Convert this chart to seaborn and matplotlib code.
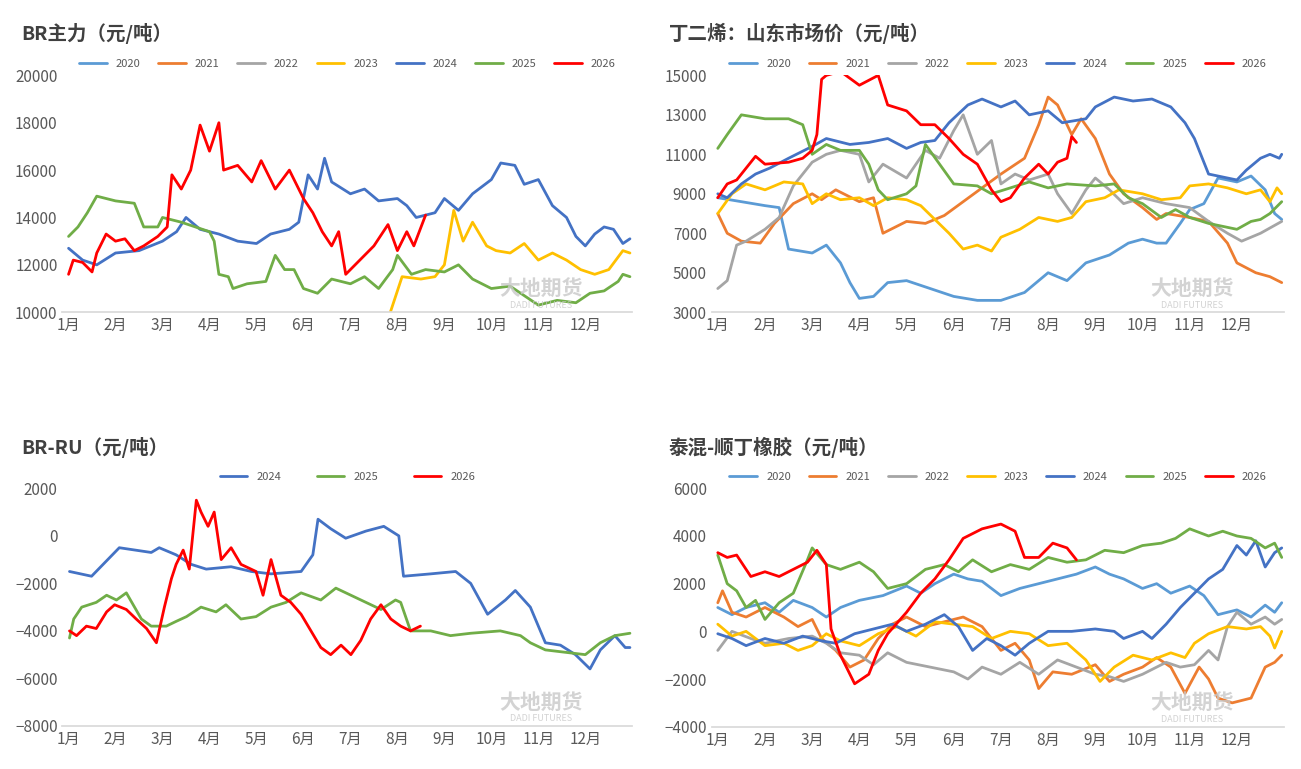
import pandas as pd
import matplotlib.pyplot as plt
import seaborn as sns
import numpy as np

sns.set_theme(style='white')
plt.rcParams['font.family'] = ['Noto Sans CJK SC', 'DejaVu Sans']

colors = {'2020': '#5B9BD5', '2021': '#ED7D31', '2022': '#A5A5A5', '2023': '#FFC000',
          '2024': '#4472C4', '2025': '#70AD47', '2026': '#FF0000'}

# x = month position (1.0 = Jan 1), y = value
br_main = {
    '2020': [], '2021': [], '2022': [],
    '2023': [(7.85, 10000), (8.1, 11500), (8.5, 11400), (8.8, 11500), (9.0, 12000), (9.2, 14300), (9.4, 13000),
             (9.6, 13800), (9.9, 12800), (10.1, 12600), (10.4, 12500), (10.7, 12900), (11.0, 12200), (11.3, 12500),
             (11.6, 12200), (11.9, 11800), (12.2, 11600), (12.5, 11800), (12.8, 12600), (12.95, 12500)],
    '2024': [(1.0, 12700), (1.3, 12200), (1.6, 12000), (2.0, 12500), (2.5, 12600), (3.0, 13000), (3.3, 13400),
             (3.5, 14000), (3.8, 13500), (4.2, 13300), (4.6, 13000), (5.0, 12900), (5.3, 13300), (5.7, 13500),
             (5.9, 13800), (6.1, 15800), (6.3, 15200), (6.45, 16500), (6.6, 15500), (7.0, 15000), (7.3, 15200),
             (7.6, 14700), (8.0, 14800), (8.2, 14500), (8.4, 14000), (8.8, 14200), (9.0, 14800), (9.3, 14300),
             (9.6, 15000), (10.0, 15600), (10.2, 16300), (10.5, 16200), (10.7, 15400), (11.0, 15600),
             (11.3, 14500), (11.6, 14000), (11.8, 13200), (12.0, 12800), (12.2, 13300), (12.4, 13600),
             (12.6, 13500), (12.8, 12900), (12.95, 13100)],
    '2025': [(1.0, 13200), (1.2, 13600), (1.4, 14200), (1.6, 14900), (2.0, 14700), (2.4, 14600), (2.6, 13600),
             (2.9, 13600), (3.0, 14000), (3.4, 13800), (3.7, 13600), (4.0, 13400), (4.1, 13000), (4.2, 11600),
             (4.4, 11500), (4.5, 11000), (4.8, 11200), (5.2, 11300), (5.4, 12400), (5.6, 11800), (5.8, 11800),
             (6.0, 11000), (6.3, 10800), (6.6, 11400), (7.0, 11200), (7.3, 11500), (7.6, 11000), (7.9, 11800),
             (8.0, 12400), (8.3, 11600), (8.6, 11800), (9.0, 11700), (9.3, 12000), (9.6, 11400), (10.0, 11000),
             (10.4, 11100), (10.7, 10700), (11.0, 10300), (11.4, 10500), (11.8, 10400), (12.1, 10800),
             (12.4, 10900), (12.7, 11300), (12.8, 11600), (12.95, 11500)],
    '2026': [(1.0, 11600), (1.1, 12200), (1.3, 12100), (1.5, 11700), (1.6, 12500), (1.8, 13300), (2.0, 13000),
             (2.2, 13100), (2.4, 12600), (2.6, 12800), (2.9, 13200), (3.1, 13600), (3.2, 15800), (3.4, 15200),
             (3.6, 16000), (3.8, 17900), (4.0, 16800), (4.2, 18000), (4.3, 16000), (4.6, 16200), (4.9, 15500),
             (5.1, 16400), (5.4, 15200), (5.7, 16000), (6.0, 14800), (6.2, 14200), (6.4, 13400), (6.6, 12800),
             (6.75, 13400), (6.9, 11600), (7.2, 12200), (7.5, 12800), (7.8, 13700), (8.0, 12600), (8.2, 13400),
             (8.35, 12800), (8.6, 14100)],
}

butadiene = {
    '2020': [(1.0, 8800), (1.5, 8600), (2.0, 8400), (2.3, 8300), (2.5, 6200), (3.0, 6000), (3.3, 6400), (3.6, 5500),
             (3.8, 4500), (4.0, 3700), (4.3, 3800), (4.6, 4500), (5.0, 4600), (5.5, 4200), (6.0, 3800), (6.5, 3600),
             (7.0, 3600), (7.5, 4000), (8.0, 5000), (8.4, 4600), (8.8, 5500), (9.3, 5900), (9.7, 6500), (10.0, 6700),
             (10.3, 6500), (10.5, 6500), (10.8, 7500), (11.0, 8200), (11.3, 8500), (11.6, 9800), (12.0, 9600),
             (12.3, 9900), (12.6, 9200), (12.8, 8000), (12.95, 7700)],
    '2021': [(1.0, 8000), (1.2, 7000), (1.5, 6600), (1.9, 6500), (2.2, 7500), (2.6, 8500), (3.0, 9000), (3.2, 8700),
             (3.5, 9200), (4.0, 8600), (4.3, 8800), (4.5, 7000), (5.0, 7600), (5.4, 7500), (5.8, 7900), (6.2, 8600),
             (6.6, 9300), (7.0, 10000), (7.5, 10800), (7.8, 12500), (8.0, 13900), (8.2, 13500), (8.5, 12000),
             (8.7, 12800), (9.0, 11800), (9.3, 10000), (9.6, 9000), (10.0, 8300), (10.3, 7700), (10.5, 8000),
             (11.0, 7800), (11.4, 7600), (11.8, 6500), (12.0, 5500), (12.4, 5000), (12.7, 4800), (12.95, 4500)],
    '2022': [(1.0, 4200), (1.2, 4600), (1.4, 6400), (1.6, 6600), (2.0, 7200), (2.3, 7800), (2.6, 9400), (3.0, 10600),
             (3.3, 11000), (3.6, 11200), (4.0, 11000), (4.2, 9600), (4.5, 10500), (5.0, 9800), (5.4, 11200),
             (5.7, 10800), (6.0, 12200), (6.2, 13000), (6.5, 11000), (6.8, 11700), (7.0, 9500), (7.3, 10000),
             (7.6, 9700), (8.0, 10000), (8.2, 9000), (8.5, 8000), (8.8, 9200), (9.0, 9800), (9.3, 9200), (9.6, 8500),
             (10.0, 8800), (10.5, 8500), (11.0, 8300), (11.4, 7600), (11.8, 7000), (12.1, 6600), (12.5, 7000),
             (12.8, 7400), (12.95, 7600)],
    '2023': [(1.0, 8000), (1.3, 9000), (1.6, 9500), (2.0, 9200), (2.4, 9600), (2.8, 9500), (3.0, 8500), (3.3, 9000),
             (3.6, 8700), (4.0, 8800), (4.3, 8400), (4.6, 8800), (5.0, 8700), (5.3, 8400), (5.6, 7700), (5.9, 7000),
             (6.2, 6200), (6.5, 6400), (6.8, 6100), (7.0, 6800), (7.4, 7200), (7.8, 7800), (8.2, 7600), (8.5, 7800),
             (8.8, 8600), (9.2, 8800), (9.5, 9200), (10.0, 9000), (10.4, 8700), (10.8, 8800), (11.0, 9400),
             (11.4, 9500), (11.8, 9300), (12.2, 9000), (12.5, 9200), (12.7, 8600), (12.85, 9300), (12.95, 9000)],
    '2024': [(1.0, 9000), (1.2, 8800), (1.5, 9500), (1.8, 10000), (2.1, 10300), (2.5, 10800), (3.0, 11400),
             (3.3, 11800), (3.8, 11500), (4.2, 11600), (4.6, 11800), (5.0, 11300), (5.3, 11600), (5.6, 11700),
             (5.9, 12600), (6.3, 13500), (6.6, 13800), (7.0, 13400), (7.3, 13700), (7.6, 13000), (8.0, 13200),
             (8.3, 12600), (8.8, 12800), (9.0, 13400), (9.4, 13900), (9.8, 13700), (10.2, 13800), (10.6, 13400),
             (10.9, 12600), (11.1, 11800), (11.4, 10000), (11.8, 9800), (12.0, 9700), (12.2, 10200), (12.5, 10800),
             (12.7, 11000), (12.9, 10800), (12.95, 11000)],
    '2025': [(1.0, 11300), (1.2, 12000), (1.5, 13000), (2.0, 12800), (2.5, 12800), (2.8, 12500), (3.0, 11000),
             (3.3, 11500), (3.6, 11200), (4.0, 11200), (4.2, 10500), (4.4, 9200), (4.6, 8700), (5.0, 9000),
             (5.2, 9400), (5.4, 11500), (5.7, 10500), (6.0, 9500), (6.5, 9400), (6.8, 9000), (7.2, 9300), (7.6, 9600),
             (8.0, 9300), (8.4, 9500), (9.0, 9400), (9.4, 9500), (9.7, 8800), (10.0, 8500), (10.4, 7800),
             (10.7, 8200), (11.0, 7800), (11.4, 7500), (11.8, 7300), (12.0, 7200), (12.3, 7600), (12.5, 7700),
             (12.7, 8000), (12.95, 8600)],
    '2026': [(1.0, 8800), (1.2, 9500), (1.4, 9700), (1.8, 10900), (2.0, 10500), (2.5, 10600), (2.8, 10800),
             (3.0, 11200), (3.1, 12000), (3.2, 14800), (3.3, 15000), (3.6, 15200), (4.0, 14500), (4.4, 15000),
             (4.6, 13500), (5.0, 13200), (5.3, 12500), (5.6, 12500), (5.9, 11800), (6.2, 11000), (6.5, 10500),
             (6.8, 9200), (7.0, 8600), (7.2, 8800), (7.5, 9800), (7.8, 10500), (8.0, 10000), (8.2, 10600),
             (8.4, 10800), (8.5, 11900), (8.6, 11600)],
}

br_ru = {
    '2024': [(1.02, -1500), (1.49, -1700), (2.08, -500), (2.76, -700), (2.93, -500), (3.29, -800), (3.61, -1200),
             (3.93, -1400), (4.46, -1300), (4.89, -1500), (5.31, -1600), (5.95, -1500), (6.20, -800), (6.31, 700),
             (6.58, 300), (6.90, -100), (7.33, 200), (7.71, 400), (8.03, 0), (8.13, -1700), (8.71, -1600),
             (9.24, -1500), (9.56, -2000), (9.92, -3300), (10.30, -2700), (10.51, -2300), (10.83, -3000),
             (11.15, -4500), (11.47, -4600), (11.79, -5000), (12.10, -5600), (12.32, -4800), (12.63, -4200),
             (12.85, -4700), (12.95, -4700)],
    '2025': [(1.02, -4300), (1.11, -3500), (1.28, -3000), (1.59, -2800), (1.81, -2500), (2.02, -2700), (2.23, -2400),
             (2.55, -3500), (2.76, -3800), (3.08, -3800), (3.29, -3600), (3.51, -3400), (3.82, -3000), (4.14, -3200),
             (4.35, -2900), (4.67, -3500), (4.99, -3400), (5.31, -3000), (5.63, -2800), (5.95, -2400), (6.37, -2700),
             (6.69, -2200), (7.01, -2500), (7.33, -2800), (7.65, -3100), (7.96, -2700), (8.07, -2800), (8.28, -4000),
             (8.71, -4000), (9.13, -4200), (9.56, -4100), (10.19, -4000), (10.62, -4200), (10.83, -4500),
             (11.15, -4800), (11.57, -4900), (12.0, -5000), (12.32, -4500), (12.63, -4200), (12.95, -4100)],
    '2026': [(1.02, -4000), (1.17, -4200), (1.38, -3800), (1.59, -3900), (1.81, -3200), (1.98, -2900), (2.23, -3100),
             (2.44, -3500), (2.66, -3900), (2.87, -4500), (3.04, -3000), (3.19, -1800), (3.29, -1200), (3.44, -600),
             (3.57, -1400), (3.72, 1500), (3.82, 1000), (3.97, 400), (4.10, 1000), (4.25, -1000), (4.46, -500),
             (4.67, -1200), (4.99, -1500), (5.14, -2500), (5.31, -1000), (5.52, -2500), (5.73, -2800), (5.95, -3300),
             (6.16, -4000), (6.37, -4700), (6.58, -5000), (6.80, -4600), (7.01, -5000), (7.22, -4400), (7.43, -3500),
             (7.65, -2900), (7.86, -3500), (8.07, -3800), (8.28, -4000), (8.49, -3800)],
}

thai_mix = {
    '2020': [(1.0, 1000), (1.3, 700), (1.6, 1000), (2.0, 1200), (2.3, 800), (2.6, 1300), (3.0, 1000), (3.3, 600),
             (3.6, 1000), (4.0, 1300), (4.5, 1500), (5.0, 1900), (5.3, 1600), (5.6, 2000), (6.0, 2400), (6.3, 2200),
             (6.6, 2100), (7.0, 1500), (7.4, 1800), (7.8, 2000), (8.2, 2200), (8.6, 2400), (9.0, 2700), (9.3, 2400),
             (9.6, 2200), (10.0, 1800), (10.3, 2000), (10.6, 1600), (11.0, 1900), (11.3, 1500), (11.6, 700),
             (12.0, 900), (12.3, 600), (12.6, 1100), (12.8, 800), (12.95, 1200)],
    '2021': [(1.0, 1200), (1.1, 1700), (1.3, 800), (1.6, 600), (2.0, 1000), (2.4, 600), (2.7, 200), (3.0, 500),
             (3.2, -300), (3.5, -800), (3.8, -1500), (4.1, -1200), (4.4, -300), (4.7, 300), (5.0, 600), (5.4, 200),
             (5.8, 400), (6.2, 600), (6.6, 200), (7.0, -800), (7.3, -500), (7.6, -1200), (7.8, -2400), (8.1, -1700),
             (8.5, -1800), (9.0, -1400), (9.3, -2100), (9.6, -1800), (10.0, -1500), (10.3, -1100), (10.6, -1500),
             (10.9, -2600), (11.2, -1500), (11.4, -2000), (11.6, -2800), (11.9, -3000), (12.3, -2800), (12.6, -1500),
             (12.8, -1300), (12.95, -1000)],
    '2022': [(1.0, -800), (1.3, 0), (1.7, -300), (2.0, -500), (2.5, -300), (3.0, -200), (3.3, -500), (3.6, -900),
             (4.0, -1000), (4.3, -1400), (4.6, -900), (5.0, -1300), (5.5, -1500), (6.0, -1700), (6.3, -2000),
             (6.6, -1500), (7.0, -1800), (7.4, -1300), (7.8, -1800), (8.2, -1200), (8.6, -1500), (9.0, -1800),
             (9.3, -1900), (9.6, -2100), (10.0, -1800), (10.5, -1300), (10.8, -1500), (11.1, -1400), (11.4, -800),
             (11.6, -1200), (11.8, 200), (12.0, 800), (12.3, 300), (12.6, 600), (12.8, 300), (12.95, 500)],
    '2023': [(1.0, 300), (1.3, -200), (1.6, 0), (2.0, -600), (2.4, -500), (2.7, -800), (3.0, -600), (3.3, -100),
             (3.6, -400), (4.0, -600), (4.4, -100), (4.8, 200), (5.2, -200), (5.6, 400), (6.0, 300), (6.4, 200),
             (6.8, -300), (7.2, 0), (7.6, -100), (8.0, -600), (8.4, -500), (8.8, -1200), (9.1, -2100), (9.4, -1500),
             (9.8, -1000), (10.2, -1200), (10.6, -900), (10.9, -1100), (11.1, -500), (11.4, -100), (11.8, 200),
             (12.2, 100), (12.5, 200), (12.7, -200), (12.8, -700), (12.95, 0)],
    '2024': [(1.0, -100), (1.3, -300), (1.6, -600), (2.0, -300), (2.4, -500), (2.8, -200), (3.2, -400), (3.5, -500),
             (3.9, -100), (4.3, 100), (4.7, 300), (5.0, 0), (5.4, 300), (5.8, 700), (6.1, 200), (6.4, -800),
             (6.7, -300), (7.0, -600), (7.3, -1000), (7.6, -500), (8.0, 0), (8.5, 0), (9.0, 100), (9.4, 0),
             (9.6, -300), (10.0, 0), (10.2, -300), (10.5, 300), (10.8, 1000), (11.1, 1600), (11.4, 2200),
             (11.7, 2600), (12.0, 3600), (12.2, 3200), (12.4, 3800), (12.6, 2700), (12.8, 3300), (12.95, 3500)],
    '2025': [(1.0, 3200), (1.2, 2000), (1.4, 1700), (1.6, 1000), (1.8, 1300), (2.0, 500), (2.3, 1200), (2.6, 1600),
             (2.9, 3000), (3.0, 3500), (3.3, 2800), (3.6, 2600), (4.0, 2900), (4.3, 2500), (4.6, 1800), (5.0, 2000),
             (5.4, 2600), (5.8, 2800), (6.1, 2500), (6.4, 3000), (6.8, 2500), (7.2, 2800), (7.6, 2600), (8.0, 3100),
             (8.4, 2900), (8.8, 3000), (9.2, 3400), (9.6, 3300), (10.0, 3600), (10.4, 3700), (10.7, 3900),
             (11.0, 4300), (11.4, 4000), (11.7, 4200), (12.0, 4000), (12.3, 3900), (12.6, 3500), (12.8, 3700),
             (12.95, 3100)],
    '2026': [(1.0, 3300), (1.2, 3100), (1.4, 3200), (1.7, 2300), (2.0, 2500), (2.3, 2300), (2.6, 2600), (2.9, 2900),
             (3.1, 3400), (3.3, 2800), (3.4, 100), (3.6, -1000), (3.9, -2200), (4.2, -1800), (4.4, -800), (4.6, -100),
             (5.0, 800), (5.3, 1600), (5.6, 2200), (5.9, 3000), (6.2, 3900), (6.6, 4300), (7.0, 4500), (7.3, 4200),
             (7.5, 3100), (7.8, 3100), (8.1, 3700), (8.4, 3500), (8.6, 3000)],
}

fig = plt.figure(figsize=(13.01, 7.69), dpi=100)

panels = [
    (br_main, 'BR主力（元/吨）', [0.048, 0.594, 0.438, 0.308], (10000, 20000), 2000, (0.016, 0.957)),
    (butadiene, '丁二烯：山东市场价（元/吨）', [0.547, 0.594, 0.440, 0.308], (3000, 15000), 2000, (0.514, 0.957)),
    (br_ru, 'BR-RU（元/吨）', [0.048, 0.056, 0.438, 0.309], (-8000, 2000), 2000, (0.016, 0.418)),
    (thai_mix, '泰混-顺丁橡胶（元/吨）', [0.547, 0.055, 0.440, 0.310], (-4000, 6000), 2000, (0.514, 0.418)),
]

for data, title, pos, ylim, step, tpos in panels:
    ax = fig.add_axes(pos)
    for year, pts in data.items():
        if pts:
            d = pd.DataFrame(pts, columns=['month', 'value'])
            sns.lineplot(data=d, x='month', y='value', ax=ax, color=colors[year], linewidth=2.0,
                         sort=False, label=year)
        else:
            ax.plot([], [], color=colors[year], linewidth=2.0, label=year)
    ax.set_xlim(0.87, 13.0)
    ax.set_ylim(*ylim)
    ax.set_yticks(np.arange(ylim[0], ylim[1] + 1, step))
    ax.set_xticks(range(1, 13))
    ax.set_xticklabels([f'{m}月' for m in range(1, 13)])
    ax.set_xlabel('')
    ax.set_ylabel('')
    ax.tick_params(axis='both', labelsize=11, colors='#595959', length=0)
    for s in ['top', 'right', 'left']:
        ax.spines[s].set_visible(False)
    ax.spines['bottom'].set_color('#D9D9D9')
    ax.legend(loc='lower center', bbox_to_anchor=(0.5, 1.0), ncol=len(data), frameon=False,
              fontsize=8, handlelength=2.5, columnspacing=3.2 if len(data) < 7 else 1.6,
              labelcolor='#595959', borderaxespad=0.2)
    fig.text(tpos[0], tpos[1], title, fontsize=14, fontweight='bold', color='#404040', va='center')
    ax.text(0.84, 0.1, '大地期货', transform=ax.transAxes, fontsize=15, color='#C8C8C8',
            ha='center', va='center', fontweight='bold', alpha=0.8)
    ax.text(0.84, 0.03, 'DADI FUTURES', transform=ax.transAxes, fontsize=6.5, color='#C8C8C8',
            ha='center', va='center', alpha=0.8)

fig.savefig('out.png', dpi=100, facecolor='white')
